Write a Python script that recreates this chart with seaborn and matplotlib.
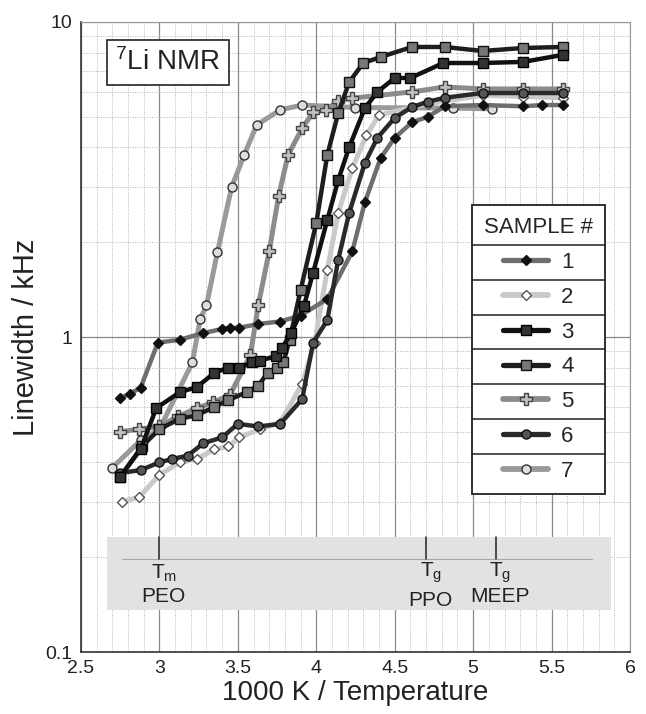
import numpy as np
import pandas as pd
import matplotlib
matplotlib.use("Agg")
import matplotlib.pyplot as plt
from matplotlib.lines import Line2D
from matplotlib.ticker import MultipleLocator, FixedLocator, NullFormatter, FuncFormatter
import seaborn as sns

# --- data (x = 1000 K / T, y = linewidth in kHz) ---
s1_x = [2.75, 2.81, 2.88, 2.99, 3.13, 3.28, 3.40, 3.45, 3.51, 3.63, 3.77, 3.90, 4.07, 4.23, 4.31, 4.41, 4.50, 4.61, 4.71, 4.82, 5.06, 5.32, 5.44, 5.57]
s1_y = [0.64, 0.66, 0.69, 0.96, 0.98, 1.03, 1.06, 1.07, 1.07, 1.10, 1.12, 1.17, 1.32, 1.87, 2.68, 3.70, 4.29, 4.80, 5.00, 5.40, 5.45, 5.40, 5.45, 5.45]

s2_x = [2.76, 2.87, 3.00, 3.13, 3.24, 3.35, 3.44, 3.51, 3.64, 3.77, 3.91, 3.99, 4.07, 4.14, 4.23, 4.32, 4.40, 4.71, 5.06, 5.32, 5.57]
s2_y = [0.30, 0.31, 0.365, 0.40, 0.41, 0.44, 0.45, 0.48, 0.51, 0.535, 0.71, 0.96, 1.63, 2.48, 3.44, 4.38, 5.06, 5.50, 5.85, 5.80, 5.75]

s3_x = [2.75, 2.88, 2.98, 3.13, 3.24, 3.35, 3.44, 3.51, 3.59, 3.64, 3.74, 3.78, 3.84, 3.92, 3.98, 4.07, 4.14, 4.21, 4.31, 4.39, 4.50, 4.60, 4.81, 5.06, 5.32, 5.57]
s3_y = [0.36, 0.44, 0.595, 0.668, 0.694, 0.77, 0.80, 0.80, 0.83, 0.84, 0.87, 0.92, 1.03, 1.25, 1.60, 2.35, 3.15, 4.01, 5.33, 6.00, 6.64, 6.64, 7.41, 7.41, 7.47, 7.86]

s4_x = [2.75, 2.89, 3.00, 3.13, 3.24, 3.35, 3.44, 3.56, 3.63, 3.69, 3.75, 3.79, 3.83, 3.90, 4.00, 4.07, 4.14, 4.21, 4.30, 4.41, 4.61, 4.82, 5.06, 5.32, 5.57]
s4_y = [0.36, 0.45, 0.51, 0.55, 0.565, 0.60, 0.63, 0.67, 0.70, 0.77, 0.80, 0.83, 0.98, 1.41, 2.30, 3.78, 5.14, 6.45, 7.41, 7.74, 8.33, 8.33, 8.09, 8.27, 8.33]

s5_x = [2.75, 2.87, 3.00, 3.12, 3.24, 3.34, 3.45, 3.58, 3.63, 3.70, 3.76, 3.82, 3.91, 3.98, 4.06, 4.14, 4.23, 4.61, 4.82, 5.06, 5.32, 5.57]
s5_y = [0.50, 0.51, 0.52, 0.56, 0.595, 0.62, 0.655, 0.877, 1.26, 1.875, 2.80, 3.78, 4.60, 5.17, 5.26, 5.61, 5.73, 6.00, 6.22, 6.13, 6.13, 6.13]

s6_x = [2.75, 2.88, 3.00, 3.08, 3.18, 3.28, 3.40, 3.50, 3.63, 3.77, 3.91, 3.98, 4.07, 4.14, 4.21, 4.31, 4.39, 4.50, 4.61, 4.71, 4.82, 5.06, 5.32, 5.57]
s6_y = [0.37, 0.378, 0.40, 0.41, 0.42, 0.46, 0.48, 0.53, 0.52, 0.53, 0.635, 0.96, 1.13, 1.76, 2.48, 3.57, 4.29, 4.96, 5.37, 5.58, 5.75, 5.95, 5.95, 5.95]

s7_x = [2.70, 2.88, 3.00, 3.21, 3.26, 3.30, 3.37, 3.46, 3.54, 3.62, 3.77, 3.91, 4.25, 4.87, 5.12]
s7_y = [0.385, 0.47, 0.51, 0.83, 1.14, 1.26, 1.86, 2.99, 3.78, 4.71, 5.26, 5.45, 5.35, 5.33, 5.30]

sample_labels = ["1", "2", "3", "4", "5", "6", "7"]

# transition markers in the grey band
trans_x = [3.00, 4.70, 5.145]
trans_sym = ["T$_\\mathrm{m}$", "T$_\\mathrm{g}$", "T$_\\mathrm{g}$"]
trans_poly = ["PEO", "PPO", "MEEP"]

series = {
    "1": (s1_x, s1_y), "2": (s2_x, s2_y), "3": (s3_x, s3_y), "4": (s4_x, s4_y),
    "5": (s5_x, s5_y), "6": (s6_x, s6_y), "7": (s7_x, s7_y),
}

# grey-scale styles: line colour, lw, marker, size, face, edge
styles = {
    "1": dict(color="#6e6e6e", lw=3.2, marker="D", ms=5.5, mfc="#111111", mec="#111111"),
    "2": dict(color="#c9c9c9", lw=3.6, marker="D", ms=5.5, mfc="white", mec="#555555"),
    "3": dict(color="#111111", lw=3.2, marker="s", ms=6.5, mfc="#333333", mec="#000000"),
    "4": dict(color="#1e1e1e", lw=3.2, marker="s", ms=6.5, mfc="#777777", mec="#111111"),
    "5": dict(color="#8c8c8c", lw=3.6, marker="P", ms=8.5, mfc="#c0c0c0", mec="#444444"),
    "6": dict(color="#2a2a2a", lw=3.2, marker="o", ms=6.5, mfc="#555555", mec="#111111"),
    "7": dict(color="#9a9a9a", lw=3.6, marker="o", ms=6.5, mfc="#dddddd", mec="#333333"),
}
draw_order = ["7", "5", "2", "1", "6", "4", "3"]

sns.set_theme(style="white")
plt.rcParams['font.family'] = ['Liberation Sans', 'DejaVu Sans']
plt.rcParams['mathtext.fontset'] = 'custom'
plt.rcParams['mathtext.rm'] = 'Liberation Sans'
plt.rcParams['mathtext.it'] = 'Liberation Sans'

fig = plt.figure(figsize=(6.46, 7.14), dpi=100)
ax = fig.add_axes([0.1254, 0.0868, 0.8498, 0.8824])

# grey band with transition temperatures
ax.fill_between([2.665, 5.88], 0.136, 0.232, color="#e2e2e2", lw=0, zorder=1)
ax.plot([2.76, 5.76], [0.197, 0.197], color="#a8a8a8", lw=0.8, zorder=1.5)
for tx, sym, poly in zip(trans_x, trans_sym, trans_poly):
    ax.plot([tx, tx], [0.198, 0.231], color="#222222", lw=1.1, zorder=2)
    ax.text(tx + 0.03, 0.178, sym, ha="center", va="center", fontsize=15, color="#222222", zorder=3)
    dy = 0.146 if poly == "PPO" else 0.150
    ax.text(tx + 0.025, dy, poly, ha="center", va="center", fontsize=15, color="#222222", zorder=3)

# data series
for key in draw_order:
    xs, ys = series[key]
    st = styles[key]
    df = pd.DataFrame({"x": xs, "y": ys})
    sns.lineplot(data=df, x="x", y="y", ax=ax, estimator=None, sort=False,
                 color=st["color"], lw=st["lw"], marker=st["marker"], markersize=st["ms"],
                 markerfacecolor=st["mfc"], markeredgecolor=st["mec"], markeredgewidth=1.0,
                 zorder=4)

ax.set_yscale("log")
ax.set_xlim(2.5, 6.0)
ax.set_ylim(0.1, 10)

# grid: solid major, dotted minor
ax.xaxis.set_major_locator(MultipleLocator(0.5))
ax.xaxis.set_minor_locator(MultipleLocator(0.1))
ax.xaxis.set_major_formatter(FuncFormatter(lambda v, p: f"{v:g}"))
ax.yaxis.set_major_locator(FixedLocator([0.1, 1, 10]))
ax.yaxis.set_major_formatter(FuncFormatter(lambda v, p: f"{v:g}"))
ax.yaxis.set_minor_locator(FixedLocator([m * d for d in (0.1, 1) for m in range(2, 10)]))
ax.yaxis.set_minor_formatter(NullFormatter())
ax.grid(which="major", color="#8a8a8a", lw=0.9, ls="-")
ax.grid(which="minor", color="#b5b5b5", lw=0.7, ls=(0, (1, 1.5)))
ax.set_axisbelow(True)
ax.tick_params(which="both", length=0, labelsize=14, colors="#222222", pad=6)

for side in ["top", "right"]:
    ax.spines[side].set_color("#9a9a9a")
    ax.spines[side].set_linewidth(0.8)
for side in ["left", "bottom"]:
    ax.spines[side].set_color("#333333")
    ax.spines[side].set_linewidth(1.2)

ax.set_xlabel("1000 K / Temperature", fontsize=20, color="#222222", labelpad=2)
ax.set_ylabel("Linewidth / kHz", fontsize=21, color="#222222", labelpad=4)

# 7Li NMR label
ax.text(0.158, 0.936, "$^{7}$Li NMR", transform=ax.transAxes, ha="center", va="center",
        fontsize=20, color="#222222", zorder=6,
        bbox=dict(boxstyle="square,pad=0.3", fc="white", ec="#222222", lw=1.2))

# legend styled as a table
handles = []
for key in sample_labels:
    st = styles[key]
    handles.append(Line2D([0], [0], color=st["color"], lw=st["lw"] + 0.6, marker=st["marker"],
                          markersize=st["ms"], markerfacecolor=st["mfc"],
                          markeredgecolor=st["mec"], markeredgewidth=1.0))
leg = ax.legend(handles, sample_labels, title="SAMPLE #", loc="upper left",
                bbox_to_anchor=(0.712, 0.7095), borderaxespad=0, fontsize=16,
                title_fontsize=16, frameon=True, fancybox=False, framealpha=1,
                edgecolor="#222222", handlelength=2.0, handletextpad=0.6,
                labelspacing=0.62, borderpad=0.55, alignment="center")
leg.get_frame().set_linewidth(1.3)
leg.set_zorder(7)

fig.canvas.draw()
renderer = fig.canvas.get_renderer()
inv = ax.transAxes.inverted()
fb = leg.get_frame().get_window_extent(renderer)
x0 = inv.transform((fb.x0, 0))[0]
x1 = inv.transform((fb.x1, 0))[0]
rows = [leg.get_title().get_window_extent(renderer)] + [t.get_window_extent(renderer) for t in leg.get_texts()]
for a, b in zip(rows[:-1], rows[1:]):
    ymid = inv.transform((0, (a.y0 + b.y1) / 2))[1]
    ax.plot([x0, x1], [ymid, ymid], transform=ax.transAxes, color="#222222", lw=1.1,
            clip_on=False, zorder=8)

fig.savefig("out.png", dpi=100, facecolor="white")
